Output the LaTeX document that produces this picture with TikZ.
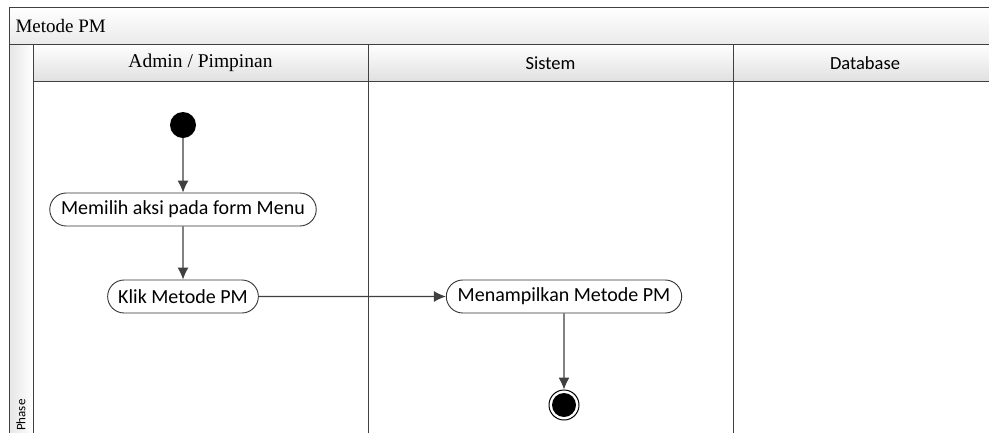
\documentclass[tikz,border=0pt]{standalone}
\usepackage{fontspec}
\setmainfont{Liberation Serif}
\newfontfamily\calfont{Carlito}
\usetikzlibrary{
  arrows.meta,
  positioning,
  shapes.misc
}
\tikzset{>=Latex}
\tikzset{
  lane/.style={draw=black!75,line width=1pt},
  hdr/.style={draw=black!75,line width=1pt,top color=white,bottom color=black!12},
  action/.style={draw=black!80,line width=0.9pt,rounded rectangle,minimum height=33pt,inner xsep=9pt,
    font=\calfont\fontsize{20}{22}\selectfont,fill=white},
  flow/.style={->,draw=black!75,line width=1.1pt,>={Latex[length=12pt,width=11pt]}}
}

\begin{document}
\begin{tikzpicture}[x=1pt,y=-1pt]
\clip (0,0) rectangle (989,432);
\fill[white] (0,0) rectangle (989,432);
% frame, title and phase column
\shade[top color=white,bottom color=black!8] (9,7) rectangle (1000,44);
\shade[left color=black!10,right color=white] (9,44) rectangle (33,440);
\draw[lane] (1000,7) -- (9,7) -- (9,440);
\draw[lane] (9,44) -- (1000,44);
\node[anchor=west,font=\fontsize{19}{22}\selectfont] (title) at (12,26) {Metode PM};
\node[rotate=90,anchor=west,font=\calfont\fontsize{13}{14}\selectfont,inner sep=1pt] (phase) at (21,432) {Phase};
% lane headers
\draw[hdr] (33,44) rectangle (368,81);
\draw[hdr] (368,44) rectangle (733,81);
\draw[hdr] (733,44) rectangle (1000,81);
\node[font=\fontsize{19.5}{22}\selectfont] (admin) at (200.5,63) {Admin / Pimpinan};
\node[font=\calfont\fontsize{18.5}{22}\selectfont] (sistem) at (550.5,63) {Sistem};
\node[font=\calfont\fontsize{18.5}{22}\selectfont] (db) at (865,63) {Database};
\draw[lane] (33,81) -- (33,440);
\draw[lane] (368,81) -- (368,440);
\draw[lane] (733,81) -- (733,440);
% nodes
\node[circle,fill=black,minimum size=26pt,inner sep=0pt] (start) at (183,125) {};
\node[action] (pilih) at (183,209.5) {Memilih aksi pada form Menu};
\node[action] (klik) at (183,296.5) {Klik Metode PM};
\node[action] (tampil) at (564,296.5) {Menampilkan Metode PM};
\node[circle,draw=black,line width=1pt,minimum size=30pt,inner sep=0pt] (stop) at (564,405) {};
\node[circle,fill=black,minimum size=24pt,inner sep=0pt] at (stop) {};
% connectors
\draw[flow] (start) -- (pilih);
\draw[flow] (pilih) -- (klik);
\draw[flow] (klik) -- (tampil);
\draw[flow] (tampil) -- (stop);
\end{tikzpicture}
\end{document}
